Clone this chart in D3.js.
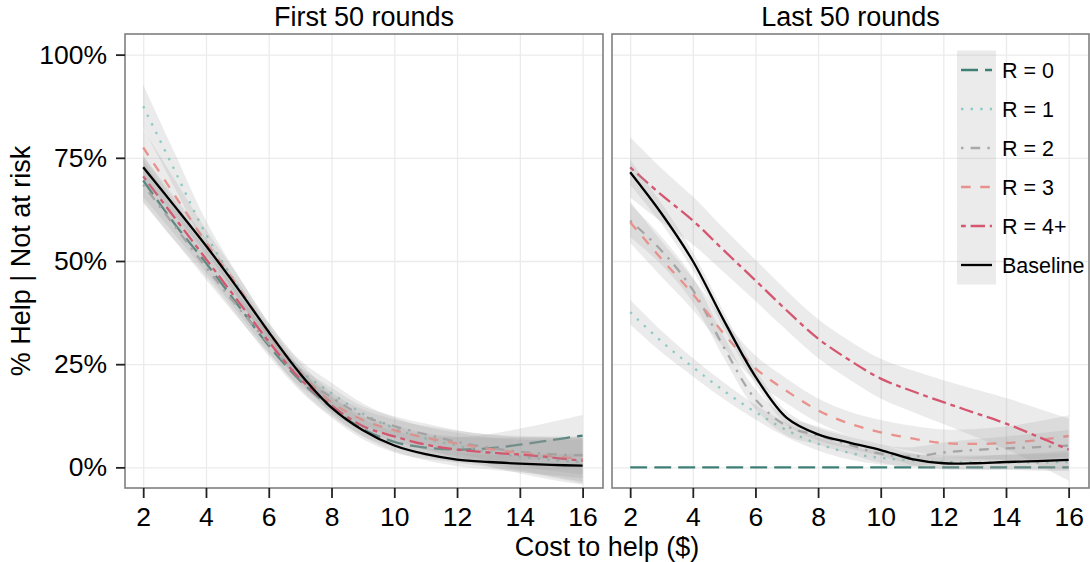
<!DOCTYPE html>
<html>
<head>
<meta charset="utf-8">
<script src="https://cdn.jsdelivr.net/npm/d3@7"></script>
<style>
body { margin: 0; background: #fff; }
svg { display: block; font-family: "Liberation Sans", Arial, Helvetica, sans-serif; }
</style>
</head>
<body>
<div class="canvas"></div>
<script>

// ---- data (% helping) ----
const costs = [2, 3, 4, 5, 6, 7, 8, 9, 10, 11, 12, 13, 14, 15, 16];
const xTicks = [2, 4, 6, 8, 10, 12, 14, 16];
const yTicks = [0, 25, 50, 75, 100];
const panelTitles = ['First 50 rounds', 'Last 50 rounds'];
const seriesNames = ['R = 0', 'R = 1', 'R = 2', 'R = 3', 'R = 4+', 'Baseline'];

// first 50 rounds: fitted value, and half width of the confidence band
const firstR0 = [69.5, 59, 49.5, 39.5, 29.5, 21, 14.5, 9.3, 6.2, 4.8, 4.3, 4.6, 5.5, 6.6, 7.7];
const firstR1 = [87.5, 72, 56.5, 44, 32.5, 23.5, 18, 13, 9.5, 7, 5.3, 3.8, 2.6, 1.8, 1.3];
const firstR2 = [68.5, 58.5, 48.5, 39, 30, 22, 17, 12.5, 10, 8, 6.2, 4.8, 3.8, 3.2, 2.9];
const firstR3 = [77.5, 66, 54.5, 44, 32.5, 23, 15.8, 11.5, 9, 7.2, 5.8, 4.5, 3.5, 2.7, 2];
const firstR4 = [70.5, 60.5, 50.5, 40.5, 30.5, 21.5, 15, 10, 7.5, 5.5, 4.3, 3.6, 3.1, 2.4, 1.6];
const firstBase = [72.7, 63.3, 53.7, 43.5, 32.8, 22.7, 14.5, 9, 5.3, 3.2, 1.9, 1.3, 0.9, 0.6, 0.4];

const firstR0Band = [5, 4, 3.2, 2.8, 2.6, 2.5, 2.5, 2.5, 2.6, 2.8, 3, 3.4, 3.9, 4.4, 5];
const firstR1Band = [5.2, 4.2, 3.3, 2.8, 2.6, 2.5, 2.5, 2.5, 2.6, 2.8, 3.1, 3.5, 4.1, 4.8, 5.5];
const firstR2Band = [4.5, 3.6, 3, 2.6, 2.4, 2.3, 2.3, 2.3, 2.4, 2.6, 2.8, 3.1, 3.5, 4, 4.6];
const firstR3Band = [4.5, 3.8, 3.1, 2.7, 2.5, 2.4, 2.4, 2.5, 2.6, 2.8, 3.1, 3.5, 4.1, 4.8, 5.5];
const firstR4Band = [5, 4, 3.2, 2.8, 2.6, 2.5, 2.5, 2.5, 2.6, 2.8, 3.1, 3.5, 4.1, 4.8, 5.5];
const firstBaseBand = [2.8, 2.2, 1.8, 1.6, 1.5, 1.4, 1.4, 1.4, 1.4, 1.5, 1.6, 1.8, 2.1, 2.5, 3];

// last 50 rounds
const lastR0 = [0, 0, 0, 0, 0, 0, 0, 0, 0, 0, 0, 0, 0, 0, 0];
const lastR1 = [37.6, 30.5, 24.3, 18.5, 13.4, 9, 5.7, 3.5, 2.3, 1.7, 1.3, 1.2, 1.2, 1.2, 1.3];
const lastR2 = [59.8, 52.5, 43, 29, 16.5, 10, 7.7, 5.5, 3.3, 2.6, 3.6, 4.2, 4.6, 4.9, 5.3];
const lastR3 = [59.4, 50.5, 42, 32.3, 24, 18.5, 13.8, 10.6, 8.5, 7, 5.9, 5.7, 5.9, 6.6, 7.6];
const lastR4 = [72.7, 66, 59.8, 52.5, 45.3, 38, 31.2, 26, 21.5, 18.5, 15.8, 13.2, 10.6, 7.5, 4.3];
const lastBase = [71.5, 61.5, 50, 35.5, 22, 12, 8, 6, 4.2, 2, 1, 1, 1.3, 1.5, 1.8];

const lastR0Band = [0, 0, 0, 0, 0, 0, 0, 0, 0, 0, 0, 0, 0, 0, 0];
const lastR1Band = [3, 2.6, 2.2, 2, 1.8, 1.7, 1.6, 1.6, 1.6, 1.6, 1.6, 1.7, 1.8, 2, 2.2];
const lastR2Band = [4, 3.4, 3, 2.6, 2.4, 2.3, 2.2, 2.2, 2.2, 2.3, 2.4, 2.6, 2.9, 3.3, 3.8];
const lastR3Band = [5, 4.3, 3.8, 3.4, 3.1, 3, 2.9, 2.9, 3, 3.1, 3.3, 3.6, 4, 4.5, 5];
const lastR4Band = [7.3, 6.5, 5.8, 5.3, 5, 4.8, 4.7, 4.7, 4.8, 5, 5.3, 5.7, 6.2, 6.8, 7.5];
const lastBaseBand = [3, 2.5, 2.2, 2, 1.8, 1.6, 1.5, 1.4, 1.4, 1.4, 1.5, 1.6, 1.8, 2, 2.3];

// ---- styles ----
const lineColors = ['#3e7f75', '#8ccbc5', '#a8a8a8', '#e8918d', '#d5566f', '#000000'];
const lineDashes = ['17,7', '2.4,7.2', '2.4,7.2,9.6,7.2', '9.6,9.6', '4.8,4.8,14.4,4.8', null];
const lineWidth = 2.3;

const panels = [
    { title: panelTitles[0],
      fits: [firstR0, firstR1, firstR2, firstR3, firstR4, firstBase],
      bands: [firstR0Band, firstR1Band, firstR2Band, firstR3Band, firstR4Band, firstBaseBand] },
    { title: panelTitles[1],
      fits: [lastR0, lastR1, lastR2, lastR3, lastR4, lastBase],
      bands: [lastR0Band, lastR1Band, lastR2Band, lastR3Band, lastR4Band, lastBaseBand] }
];

const width = 1090, height = 562;
const panelTop = 34, panelBottom = 488;
const panelX = [[125, 603], [612, 1089]];

const svg = d3.select('.canvas')
  .append('svg')
    .attr('width', width)
    .attr('height', height);

const y = d3.scaleLinear()
    .domain([-5, 105])
    .range([panelBottom, panelTop]);

const smooth = d3.curveCatmullRom.alpha(0.5);

panels.forEach((panel, p) => {
    const x = d3.scaleLinear()
        .domain([1.42, 16.65])
        .range(panelX[p]);
    const x0 = panelX[p][0], x1 = panelX[p][1];

    const g = svg.append('g');

    // grid
    const vGrid = g.append('g')
        .attr('transform', `translate(0,${panelBottom})`)
        .call(d3.axisBottom(x).tickValues(xTicks).tickSize(-(panelBottom - panelTop)).tickFormat(''));
    const hGrid = g.append('g')
        .attr('transform', `translate(${x0},0)`)
        .call(d3.axisLeft(y).tickValues(yTicks).tickSize(-(x1 - x0)).tickFormat(''));
    [vGrid, hGrid].forEach(a => {
        a.select('.domain').remove();
        a.selectAll('line').attr('stroke', '#ebebeb').attr('stroke-width', 1.3);
    });

    const clipId = 'clip' + p;
    svg.append('clipPath').attr('id', clipId)
      .append('rect')
        .attr('x', x0).attr('y', panelTop)
        .attr('width', x1 - x0).attr('height', panelBottom - panelTop);

    const plot = g.append('g').attr('clip-path', `url(#${clipId})`);

    const area = d3.area()
        .x(d => x(d.cost))
        .y0(d => y(d.value - d.band))
        .y1(d => y(d.value + d.band))
        .curve(smooth);
    const line = d3.line()
        .x(d => x(d.cost))
        .y(d => y(d.value))
        .curve(smooth);

    panel.fits.forEach((fit, s) => {
        const rows = costs.map((c, j) => ({ cost: c, value: fit[j], band: panel.bands[s][j] }));
        plot.append('path')
            .attr('d', area(rows))
            .attr('fill', '#999999')
            .attr('fill-opacity', 0.2);
        plot.append('path')
            .attr('d', line(rows))
            .attr('fill', 'none')
            .attr('stroke', lineColors[s])
            .attr('stroke-width', lineWidth)
            .attr('stroke-dasharray', lineDashes[s]);
    });

    // panel border
    g.append('rect')
        .attr('x', x0).attr('y', panelTop)
        .attr('width', x1 - x0).attr('height', panelBottom - panelTop)
        .attr('fill', 'none')
        .attr('stroke', '#7f7f7f')
        .attr('stroke-width', 1.6);

    // x axis
    const xAxisGroup = g.append('g')
        .attr('transform', `translate(0,${panelBottom})`)
        .call(d3.axisBottom(x).tickValues(xTicks).tickSize(10).tickPadding(9));
    xAxisGroup.select('.domain').remove();
    xAxisGroup.selectAll('line').attr('stroke', '#222').attr('stroke-width', 1.8);
    xAxisGroup.selectAll('text')
        .attr('font-size', 26.5)
        .attr('font-family', 'Liberation Sans, Arial, sans-serif')
        .attr('fill', '#000');

    // y axis (left panel only)
    if (p === 0) {
        const yAxisGroup = g.append('g')
            .attr('transform', `translate(${x0},0)`)
            .call(d3.axisLeft(y).tickValues(yTicks).tickSize(9).tickPadding(9).tickFormat(d => d + '%'));
        yAxisGroup.select('.domain').remove();
        yAxisGroup.selectAll('line').attr('stroke', '#222').attr('stroke-width', 1.8);
        yAxisGroup.selectAll('text')
            .attr('font-size', 26.5)
            .attr('font-family', 'Liberation Sans, Arial, sans-serif')
            .attr('fill', '#000');
    }

    // strip title
    g.append('text')
        .attr('x', (x0 + x1) / 2)
        .attr('y', 26)
        .attr('text-anchor', 'middle')
        .attr('font-size', 27)
        .text(panel.title);
});

// axis titles
svg.append('text')
    .attr('x', (panelX[0][0] + panelX[1][1]) / 2)
    .attr('y', 556)
    .attr('text-anchor', 'middle')
    .attr('font-size', 27)
    .text('Cost to help ($)');

svg.append('text')
    .attr('transform', `translate(30,${(panelTop + panelBottom) / 2}) rotate(-90)`)
    .attr('text-anchor', 'middle')
    .attr('font-size', 27)
    .text('% Help | Not at risk');

// legend
const legend = svg.append('g').attr('transform', 'translate(957,50.5)');
const keySize = 39;
seriesNames.forEach((name, s) => {
    const row = legend.append('g').attr('transform', `translate(0,${s * keySize})`);
    row.append('rect')
        .attr('width', keySize).attr('height', keySize)
        .attr('fill', '#999999').attr('fill-opacity', 0.2);
    row.append('line')
        .attr('x1', 4).attr('x2', 35)
        .attr('y1', keySize / 2).attr('y2', keySize / 2)
        .attr('stroke', lineColors[s])
        .attr('stroke-width', lineWidth)
        .attr('stroke-dasharray', lineDashes[s]);
    row.append('text')
        .attr('x', 45)
        .attr('y', keySize / 2)
        .attr('dy', '0.35em')
        .attr('font-size', 21.5)
        .text(name);
});

</script>
</body>
</html>
